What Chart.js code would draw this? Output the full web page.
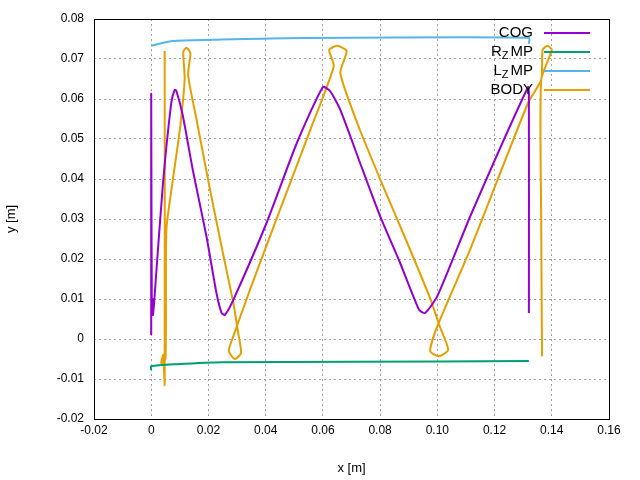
<!DOCTYPE html>
<html>
<head>
<meta charset="utf-8">
<script src="https://cdn.jsdelivr.net/npm/chart.js@4"></script>
<style>
  html, body { margin: 0; padding: 0; background: #fff; }
  #wrap { width: 640px; height: 480px; }
</style>
</head>
<body>
<div id="wrap"><canvas id="chart" width="640" height="480"></canvas></div>
<script>
'use strict';

const xTicks = [-0.02, 0, 0.02, 0.04, 0.06, 0.08, 0.1, 0.12, 0.14, 0.16];
const yTicks = [-0.02, -0.01, 0, 0.01, 0.02, 0.03, 0.04, 0.05, 0.06, 0.07, 0.08];

const cogX = [0, 0, 0.0002, 0.0005, 0.0006, 0.001, 0.004, 0.007, 0.0082, 0.0088, 0.011, 0.0146, 0.0193, 0.0228, 0.0246, 0.0257, 0.0287, 0.0403, 0.0509, 0.06, 0.0625, 0.0661, 0.073, 0.08, 0.087, 0.0936, 0.0957, 0.1, 0.1117, 0.1317, 0.132, 0.132];
const cogY = [0.001, 0.0613, 0.008, 0.01, 0.006, 0.009, 0.038, 0.059, 0.0623, 0.062, 0.056, 0.042, 0.0257, 0.0115, 0.0065, 0.006, 0.0098, 0.029, 0.049, 0.063, 0.062, 0.0573, 0.044, 0.0307, 0.019, 0.0073, 0.0065, 0.0107, 0.031, 0.063, 0.0615, 0.0065];

const rzmpX = [0, 0, 0.009, 0.025, 0.07, 0.132];
const rzmpY = [-0.0078, -0.0068, -0.0063, -0.0058, -0.0057, -0.0055];

const lzmpX = [0, 0.0075, 0.0216, 0.0468, 0.132, 0.132];
const lzmpY = [0.0733, 0.0745, 0.0748, 0.0752, 0.0753, 0.0738];

const bodyX = [0.0047, 0.0047, 0.0042, 0.0035, 0.005, 0.0053, 0.0076, 0.01, 0.0117, 0.0112, 0.0123, 0.0137, 0.0129, 0.0158, 0.0205, 0.0252, 0.0287, 0.0304, 0.0314, 0.0292, 0.0271, 0.0287, 0.0345, 0.045, 0.0556, 0.0638, 0.0622, 0.065, 0.0683, 0.0661, 0.072, 0.0801, 0.0895, 0.0977, 0.1006, 0.1038, 0.1006, 0.0975, 0.1, 0.1117, 0.1317, 0.1363, 0.1368, 0.1385, 0.14, 0.1363, 0.1363, 0.1366];
const bodyY = [0.072, -0.0114, -0.004, -0.006, -0.005, 0.0273, 0.04, 0.0523, 0.065, 0.0718, 0.0728, 0.0715, 0.066, 0.055, 0.0375, 0.021, 0.009, 0.0015, -0.0035, -0.005, -0.003, 0.0007, 0.0123, 0.0323, 0.0523, 0.0682, 0.0723, 0.0733, 0.072, 0.0665, 0.054, 0.0398, 0.024, 0.0098, 0.0036, -0.0027, -0.0043, -0.003, 0.0032, 0.0228, 0.059, 0.0648, 0.0723, 0.0733, 0.0723, 0.0648, 0.03, -0.0043];

const zip = (xs, ys) => xs.map((x, i) => ({ x: x, y: ys[i] }));

const series = [
    { label: 'COG', sub: null, color: '#9400d3', data: zip(cogX, cogY) },
    { label: 'R', sub: 'Z', rest: 'MP', color: '#009e73', data: zip(rzmpX, rzmpY) },
    { label: 'L', sub: 'Z', rest: 'MP', color: '#56b4e9', data: zip(lzmpX, lzmpY) },
    { label: 'BODY', sub: null, color: '#e69f00', data: zip(bodyX, bodyY) }
];

const FONT = '"Liberation Sans", Arial, sans-serif';

// gnuplot-style key: right-aligned text, line sample to the right
const keyPlugin = {
    id: 'key',
    afterDatasetsDraw(chart) {
        const ctx = chart.ctx;
        ctx.save();
        ctx.font = '15px ' + FONT;
        ctx.textBaseline = 'middle';
        series.forEach((s, i) => {
            const y = 33 + i * 19;
            const right = 533;
            ctx.fillStyle = '#000';
            if (s.sub) {
                ctx.textAlign = 'left';
                const wL = ctx.measureText(s.label).width;
                const wR = ctx.measureText(s.rest).width;
                ctx.font = '11px ' + FONT;
                const wS = ctx.measureText(s.sub).width;
                let x = right - wL - wS - wR - 2;
                ctx.font = '15px ' + FONT;
                ctx.fillText(s.label, x, y);
                x += wL;
                ctx.font = '11px ' + FONT;
                ctx.fillText(s.sub, x, y + 4);
                x += wS + 2;
                ctx.font = '15px ' + FONT;
                ctx.fillText(s.rest, x, y);
            } else {
                ctx.textAlign = 'right';
                ctx.fillText(s.label, right, y);
            }
            ctx.strokeStyle = s.color;
            ctx.lineWidth = 2;
            ctx.beginPath();
            ctx.moveTo(544, y);
            ctx.lineTo(590, y);
            ctx.stroke();
        });
        ctx.restore();
    }
};

const frame = {
    id: 'frame',
    afterDraw(chart) {
        const a = chart.chartArea, ctx = chart.ctx;
        ctx.save();
        ctx.strokeStyle = '#000';
        ctx.lineWidth = 1;
        ctx.strokeRect(a.left + 0.5, a.top + 0.5, a.right - a.left, a.bottom - a.top);
        ctx.restore();
    }
};

new Chart(document.getElementById('chart'), {
    type: 'scatter',
    data: {
        datasets: series.map(s => ({
            label: s.label,
            data: s.data,
            borderColor: s.color,
            backgroundColor: s.color,
            borderWidth: 2,
            showLine: true,
            pointRadius: 0,
            tension: 0.2
        }))
    },
    options: {
        responsive: false,
        animation: false,
        layout: { padding: { top: 19, right: 31, left: 0, bottom: 0 } },
        plugins: { legend: { display: false }, tooltip: { enabled: false } },
        scales: {
            x: {
                type: 'linear', min: -0.02, max: 0.16,
                afterBuildTicks: ax => { ax.ticks = xTicks.map(v => ({ value: v })); },
                afterFit: ax => { ax.height = 61; },
                ticks: { color: '#000', font: { family: FONT, size: 12 }, padding: 4, maxRotation: 0 },
                grid: { color: '#a0a0a0', drawTicks: false },
                border: { display: false, dash: [2, 3] },
                title: { display: true, text: 'x [m]', color: '#000', font: { family: FONT, size: 13 }, padding: { top: 4 } }
            },
            y: {
                type: 'linear', min: -0.02, max: 0.08,
                afterBuildTicks: ax => { ax.ticks = yTicks.map(v => ({ value: v })); },
                afterFit: ax => { ax.width = 94; },
                ticks: { color: '#000', font: { family: FONT, size: 12 }, padding: 10 },
                grid: { color: '#a0a0a0', drawTicks: false },
                border: { display: false, dash: [2, 3] },
                title: { display: true, text: 'y [m]', color: '#000', font: { family: FONT, size: 13 }, padding: { bottom: 4 } }
            }
        }
    },
    plugins: [keyPlugin, frame]
});
</script>
</body>
</html>
